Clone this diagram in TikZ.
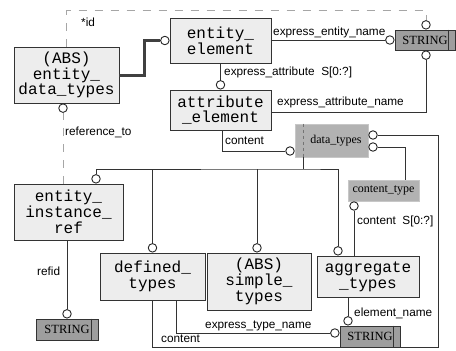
\documentclass[tikz,border=0pt]{standalone}
\usepackage{fontspec}
\setmainfont{Liberation Sans}
\newfontfamily\boxfont{Liberation Mono}
\newfontfamily\strfont{Liberation Serif}

\tikzset{
	ent/.style={draw=black!80, fill=black!7, line width=0.9pt, align=center, inner sep=0pt,
		font=\boxfont\fontsize{16}{15.8}\selectfont},
	strbox/.style={draw=black!80, fill=black!38, line width=0.9pt, inner sep=0pt,
		minimum height=20pt, font=\strfont\fontsize{12.5}{13}\selectfont},
	typebox/.style={fill=black!30, draw=black!22, line width=0.6pt, inner sep=0pt,
		font=\strfont\fontsize{12}{12}\selectfont},
	ring/.style={circle, draw=black!85, fill=white, line width=0.9pt, inner sep=0pt, minimum size=8.5pt},
	lnk/.style={draw=black!80, line width=0.9pt},
	heavy/.style={draw=black!75, line width=3pt},
	dashline/.style={draw=black!35, line width=0.8pt, dash pattern=on 8pt off 8pt},
	lbl/.style={anchor=west, inner sep=0pt, font=\fontsize{11.8}{12}\selectfont}
}

\begin{document}
\begin{tikzpicture}[x=1pt,y=-1pt]
	\useasboundingbox (0,0) rectangle (456,351);

	% Entitaeten
	\node[ent, minimum width=105pt, minimum height=56pt] (edt) at (66.5,75) {(ABS)\\entity\_\\data\_types};
	\node[ent, minimum width=101pt, minimum height=45pt] (ee) at (220.5,40.5) {entity\_\\element};
	\node[ent, minimum width=101pt, minimum height=40pt] (ae) at (220.5,110) {attribute\\\_element};
	\node[ent, minimum width=109pt, minimum height=56pt] (eir) at (68.5,212) {entity\_\\instance\_\\ref};
	\node[ent, minimum width=105pt, minimum height=47pt] (dft) at (152.5,276.5) {defined\_\\types};
	\node[ent, minimum width=104pt, minimum height=57pt] (st) at (259,281.5) {(ABS)\\simple\_\\types};
	\node[ent, minimum width=102pt, minimum height=41pt] (agt) at (368,276.5) {aggregate\\\_types};

	% Typen
	\node[typebox, minimum width=73pt, minimum height=33pt] (dt) at (331.5,140.5) {\hspace{9pt}data\_types};
	\draw[black!55, dashed] ([xshift=8pt]dt.north west) -- ([xshift=8pt]dt.south west);
	\node[typebox, minimum width=71pt, minimum height=21pt] (ct) at (383.5,190.5) {content\_type};

	% STRING
	\node[strbox, minimum width=60pt] (s1) at (425,40) {STRING\hspace{9pt}};
	\draw[black!80, line width=0.9pt] ([xshift=-7pt]s1.north east) -- ([xshift=-7pt]s1.south east);
	\node[strbox, minimum width=62pt, minimum height=21pt] (s2) at (67,329.5) {STRING\hspace{9pt}};
	\draw[black!80, line width=0.9pt] ([xshift=-7pt]s2.north east) -- ([xshift=-7pt]s2.south east);
	\node[strbox, minimum width=60pt, minimum height=21pt] (s3) at (370,336.5) {STRING\hspace{9pt}};
	\draw[black!80, line width=0.9pt] ([xshift=-7pt]s3.north east) -- ([xshift=-7pt]s3.south east);

	% Kreise
	\node[ring, anchor=east] (cee) at (ee.west) {};
	\node[ring, anchor=south] (cae) at (ae.north) {};
	\node[ring, anchor=east] (cs1l) at (s1.west) {};
	\node[ring, anchor=south] (cs1t) at ([xshift=1pt]s1.north) {};
	\node[ring, anchor=north] (cs1b) at ([xshift=1pt]s1.south) {};
	\node[ring, anchor=north] (cedt) at ([xshift=-3.5pt]edt.south) {};
	\node[ring, anchor=east] (cdtl) at ([yshift=-10.5pt]dt.west) {};
	\node[ring, anchor=west] (cdt1) at ([yshift=5.5pt]dt.east) {};
	\node[ring, anchor=west] (cdt2) at ([yshift=-6.5pt]dt.east) {};
	\node[ring, anchor=north] (cct) at ([xshift=-29.5pt]ct.south) {};
	\node[ring, anchor=south] (ceir) at ([xshift=27.5pt]eir.north) {};
	\node[ring, anchor=south] (cdft) at (dft.north) {};
	\node[ring, anchor=south] (cst) at ([xshift=-2pt]st.north) {};
	\node[ring, anchor=south] (cagt) at ([xshift=-30pt]agt.north) {};
	\node[ring, anchor=south] (cs2) at (s2.north) {};
	\node[ring, anchor=south] (cs3t) at ([xshift=-22pt]s3.north) {};
	\node[ring, anchor=east] (cs3l) at ([yshift=3.5pt]s3.west) {};

	% Verbindungen
	\draw[heavy] (edt.east) -- ++(25,0) |- (cee.west);
	\draw[lnk] (cs1l.west -| ee.east) -- (cs1l.west);
	\draw[lnk] (ee.south) -- (cae.north);
	\draw[lnk] ([yshift=-2pt]ae.east) -| (cs1b.south);
	\draw[dashline] (edt.north) -- ++(0,-36) -| (cs1t.north);
	\draw[dashline] (eir.north -| cedt) -- (cedt.south);
	\draw[lnk] ([xshift=1.5pt]ae.south) |- (cdtl.west);
	\draw[lnk] (eir.south -| cs2) -- (cs2.north);

	% Baum unter data_types
	\coordinate (tj) at (303,169);
	\draw[lnk] ([xshift=-28.5pt]dt.south) -- (tj);
	\draw[lnk] (ceir.north) |- (tj) -| (cagt.north);
	\draw[lnk] (cdft.north) -- (cdft.north |- tj);
	\draw[lnk] (cst.north) -- (cst.north |- tj);

	\coordinate (cr) at (438,347);
	\draw[lnk] (cdt1.east) -| (cr) -| (dft.south);
	\draw[lnk] (cdt2.east) -| ([xshift=21.5pt]ct.north);
	\draw[lnk] (agt.north -| cct) -- (cct.south);
	\draw[lnk] (agt.south -| cs3t) -- (cs3t.north);
	\draw[lnk] ([xshift=23.5pt]dft.south) |- (cs3l.west);

	% Beschriftungen
	\node[lbl] (lid) at (81,22) {*id};
	\node[lbl] (len) at (273,32) {express\_entity\_name};
	\node[lbl] (lea) at (224,72) {express\_attribute~~S[0:?]};
	\node[lbl] (lean) at (277,102) {express\_attribute\_name};
	\node[lbl] (lc1) at (225,141) {content};
	\node[lbl] (lref) at (65,132) {reference\_to};
	\node[lbl] (lrefid) at (37,271) {refid};
	\node[lbl] (lcs) at (357,221) {content~~S[0:?]};
	\node[lbl] (lel) at (354,313) {element\_name};
	\node[lbl] (ltn) at (205,326) {express\_type\_name};
	\node[lbl] (lc2) at (161,339) {content};
\end{tikzpicture}
\end{document}
